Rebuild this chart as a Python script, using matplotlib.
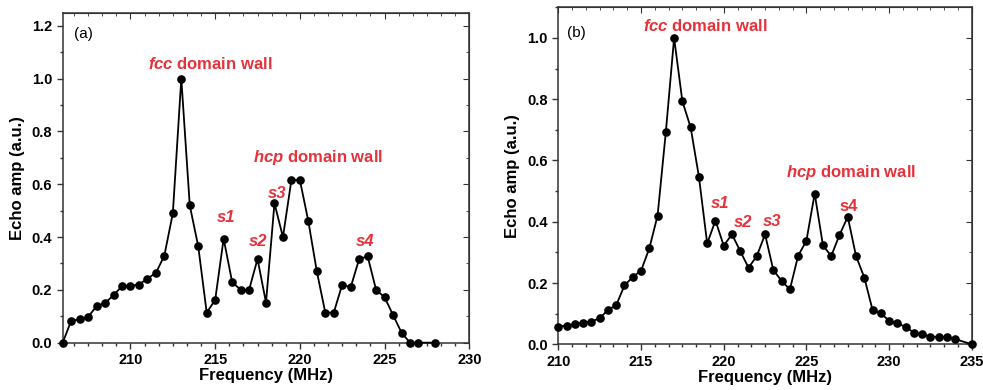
import matplotlib
matplotlib.use('Agg')
import matplotlib.pyplot as plt
from matplotlib.ticker import MultipleLocator, AutoMinorLocator

plt.rcParams['font.family'] = ['Liberation Sans', 'DejaVu Sans']
# bold italic for the fcc / hcp prefixes
plt.rcParams['mathtext.fontset'] = 'custom'
plt.rcParams['mathtext.it'] = 'Liberation Sans:bold:italic'

##### data #####

# panel (a)
freq_a = [206, 206.5, 207, 207.5, 208, 208.5, 209, 209.5, 210, 210.5, 211, 211.5,
          212, 212.5, 213, 213.5, 214, 214.5, 215, 215.5, 216, 216.5, 217, 217.5,
          218, 218.5, 219, 219.5, 220, 220.5, 221, 221.5, 222, 222.5, 223, 223.5,
          224, 224.5, 225, 225.5, 226, 226.5, 227, 228]
amp_a = [0.0, 0.083, 0.088, 0.098, 0.138, 0.15, 0.18, 0.214, 0.216, 0.22, 0.243, 0.264,
         0.33, 0.49, 1.0, 0.52, 0.365, 0.114, 0.162, 0.394, 0.23, 0.20, 0.20, 0.317,
         0.152, 0.528, 0.40, 0.616, 0.616, 0.46, 0.27, 0.114, 0.114, 0.22, 0.21, 0.317,
         0.327, 0.20, 0.172, 0.105, 0.038, 0.0, 0.0, 0.0]

# panel (b)
freq_b = [210, 210.5, 211, 211.5, 212, 212.5, 213, 213.5, 214, 214.5, 215, 215.5,
          216, 216.5, 217, 217.5, 218, 218.5, 219, 219.5, 220, 220.5, 221, 221.5,
          222, 222.5, 223, 223.5, 224, 224.5, 225, 225.5, 226, 226.5, 227, 227.5,
          228, 228.5, 229, 229.5, 230, 230.5, 231, 231.5, 232, 232.5, 233, 233.5,
          234, 235]
amp_b = [0.058, 0.061, 0.066, 0.071, 0.074, 0.085, 0.112, 0.128, 0.192, 0.22, 0.24, 0.313,
         0.42, 0.693, 1.0, 0.793, 0.708, 0.547, 0.329, 0.404, 0.322, 0.359, 0.304, 0.25,
         0.288, 0.359, 0.242, 0.207, 0.179, 0.289, 0.338, 0.492, 0.323, 0.288, 0.357, 0.416,
         0.288, 0.218, 0.112, 0.101, 0.077, 0.068, 0.057, 0.038, 0.033, 0.025, 0.024, 0.023,
         0.017, 0.0]

RED = '#e5323b'

fig = plt.figure(figsize=(9.83, 3.90), dpi=100)
ax_a = fig.add_axes([0.0638, 0.1213, 0.4136, 0.8462])
ax_b = fig.add_axes([0.5680, 0.1172, 0.4206, 0.8641])


def style_axes(ax, x, y, xlim, ylim):
    ax.plot(x, y, '-o', color='black', lw=1.3, ms=5.2, clip_on=False, zorder=3)
    ax.set_xlim(*xlim)
    ax.set_ylim(*ylim)
    ax.xaxis.set_major_locator(MultipleLocator(5))
    ax.xaxis.set_minor_locator(AutoMinorLocator(6))
    ax.yaxis.set_major_locator(MultipleLocator(0.2))
    ax.yaxis.set_minor_locator(AutoMinorLocator(2))
    ax.yaxis.set_major_formatter(plt.FormatStrFormatter('%.1f'))
    ax.tick_params(which='both', direction='out', top=False, right=False,
                   labelsize=10.5, width=1, color='#333333', pad=3)
    ax.tick_params(which='major', length=4.5)
    ax.tick_params(which='minor', length=2.5)
    for lab in ax.get_xticklabels() + ax.get_yticklabels():
        lab.set_fontweight('bold')
    for sp in ax.spines.values():
        sp.set_color('#333333')
        sp.set_linewidth(1.1)
    ax.set_xlabel('Frequency (MHz)', fontsize=12, fontweight='bold', labelpad=1)
    ax.set_ylabel('Echo amp (a.u.)', fontsize=12, fontweight='bold', labelpad=5)
    # mirrored inward ticks on top and right
    top = ax.secondary_xaxis('top')
    top.xaxis.set_major_locator(MultipleLocator(5))
    top.xaxis.set_minor_locator(AutoMinorLocator(6))
    top.tick_params(which='both', direction='in', labeltop=False, color='#333333')
    top.tick_params(which='major', length=4.5)
    top.tick_params(which='minor', length=2.5)
    top.spines['top'].set_color('#333333')
    right = ax.secondary_yaxis('right')
    right.yaxis.set_major_locator(MultipleLocator(0.2))
    right.yaxis.set_minor_locator(AutoMinorLocator(2))
    right.tick_params(which='both', direction='in', labelright=False, color='#333333')
    right.tick_params(which='major', length=4.5)
    right.tick_params(which='minor', length=2.5)
    right.spines['right'].set_color('#333333')


style_axes(ax_a, freq_a, amp_a, (206, 230), (0, 1.25))
style_axes(ax_b, freq_b, amp_b, (210, 235), (0, 1.1))

lbl = dict(color=RED, fontsize=12, fontweight='bold', ha='center', va='center')

# panel (a) annotations
ax_a.text(207.25, 1.17, '(a)', fontsize=11, ha='center', va='center')
ax_a.text(214.72, 1.054, r'$\mathit{fcc}$ domain wall', **lbl)
ax_a.text(221.09, 0.702, r'$\mathit{hcp}$ domain wall', **lbl)
ax_a.text(215.64, 0.473, 's1', style='italic', **lbl)
ax_a.text(217.55, 0.385, 's2', style='italic', **lbl)
ax_a.text(218.63, 0.564, 's3', style='italic', **lbl)
ax_a.text(223.86, 0.385, 's4', style='italic', **lbl)

# panel (b) annotations
ax_b.text(211.1, 1.017, '(b)', fontsize=11, ha='center', va='center')
ax_b.text(218.89, 1.038, r'$\mathit{fcc}$ domain wall', **lbl)
ax_b.text(227.68, 0.561, r'$\mathit{hcp}$ domain wall', **lbl)
ax_b.text(219.78, 0.458, 's1', style='italic', **lbl)
ax_b.text(221.19, 0.397, 's2', style='italic', **lbl)
ax_b.text(222.92, 0.402, 's3', style='italic', **lbl)
ax_b.text(227.54, 0.451, 's4', **lbl)

fig.savefig('out.png', dpi=100)
